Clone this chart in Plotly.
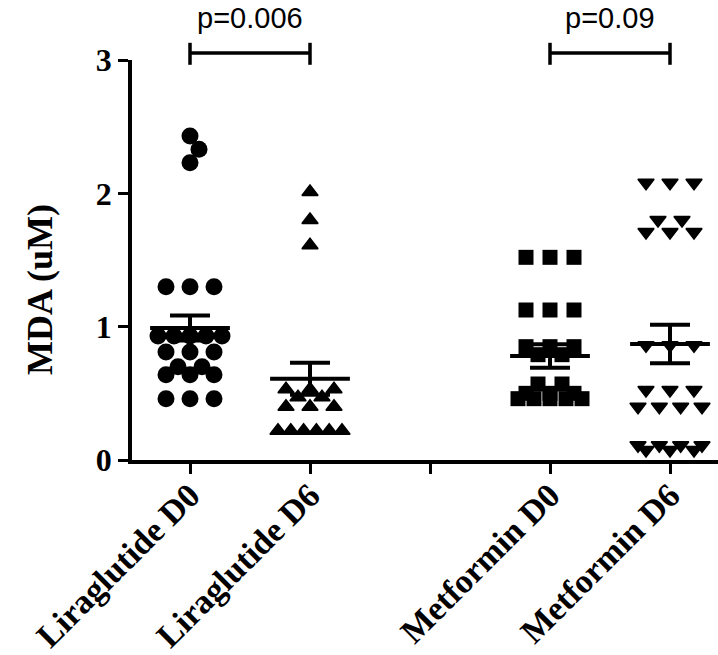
import plotly.graph_objects as go

# ---------------- data ----------------
categories = ["Liraglutide D0", "Liraglutide D6", "", "Metformin D0", "Metformin D6"]
lira_d0 = [2.43, 2.33, 2.23, 1.30, 1.30, 1.30, 0.93, 0.93, 0.93, 0.93, 0.93,
           0.81, 0.81, 0.81, 0.70, 0.70, 0.64, 0.64, 0.64, 0.46, 0.46, 0.46]
lira_d6 = [2.01, 1.80, 1.61, 0.53, 0.53, 0.53, 0.47, 0.47, 0.40, 0.40, 0.40,
           0.22, 0.22, 0.22, 0.22, 0.22, 0.22]
met_d0 = [1.52, 1.52, 1.52, 1.125, 1.125, 1.125, 0.85, 0.85, 0.85, 0.79, 0.79,
          0.57, 0.57, 0.50, 0.50, 0.50, 0.46, 0.46, 0.46, 0.46, 0.46]
met_d6 = [2.08, 2.08, 2.08, 1.80, 1.80, 1.71, 1.71, 1.71, 0.86, 0.86, 0.86,
          0.525, 0.525, 0.525, 0.40, 0.40, 0.40, 0.40, 0.11, 0.11, 0.11, 0.11,
          0.075, 0.075, 0.075]
group_means = [0.99, 0.61, 0.78, 0.87]
group_sems = [0.094, 0.12, 0.088, 0.145]
comparisons = [(0, 1, "p=0.006"), (3, 4, "p=0.09")]
y_ticks = [0, 1, 2, 3]
y_title = "MDA (uM)"

# ---------------- layout constants ----------------
W, H = 718, 655
ML, MR, MT, MB = 132, 0, 60, 195
PX_PER_X = 120.0
PX_PER_Y = (H - MT - MB) / 3.0
x_lo = -(190 - ML) / PX_PER_X
x_hi = x_lo + (W - ML - MR) / PX_PER_X

groups = [
    (0, lira_d0, "circle", 17),
    (1, lira_d6, "triangle-up", 14),
    (3, met_d0, "square", 15),
    (4, met_d6, "triangle-down", 14),
]


def row_offsets(values, step_px=24.0, max_w_px=64.0, min_dist=16.0):
    """Row-wise scatter layout (points with equal values side by side);
    single points are nudged sideways when they collide with earlier ones."""
    offs = [0.0] * len(values)
    rows = {}
    for i, v in enumerate(values):
        rows.setdefault(round(v, 4), []).append(i)
    placed = []  # (x_px, y_px)
    for key in sorted(rows):
        idx = rows[key]
        n = len(idx)
        ypx = key * PX_PER_Y
        if n == 1:
            best = 0.0
            for k in range(0, 60):
                found = False
                for cand in ((k, -k) if k else (0,)):
                    if all(((cand - px) ** 2 + (ypx - py) ** 2) ** 0.5 >= min_dist
                           for px, py in placed):
                        best = cand
                        found = True
                        break
                if found:
                    break
            offs[idx[0]] = best / PX_PER_X
            placed.append((best, ypx))
            continue
        s = min(step_px, max_w_px / (n - 1))
        for k, i in enumerate(idx):
            xpx = (k - (n - 1) / 2.0) * s
            offs[i] = xpx / PX_PER_X
            placed.append((xpx, ypx))
    return offs


fig = go.Figure()
for pos, vals, sym, size in groups:
    offs = row_offsets(vals)
    fig.add_trace(go.Scatter(
        x=[pos + o for o in offs], y=vals, mode="markers",
        marker=dict(symbol=sym, size=size, color="black",
                    line=dict(color="black", width=1.5 if "triangle" in sym else 0)),
        cliponaxis=False, showlegend=False, hoverinfo="y"))

# mean line + SEM
fig.add_trace(go.Scatter(
    x=[g[0] for g in groups], y=group_means, mode="markers",
    marker=dict(symbol="line-ew", size=57, color="black",
                line=dict(color="black", width=4)),
    error_y=dict(type="data", array=group_sems, visible=True,
                 color="black", thickness=4, width=20),
    cliponaxis=False, showlegend=False, hoverinfo="y"))

# significance brackets
BR_Y, CAP_LO, CAP_HI, TXT_Y = 1.0175, 0.988, 1.043, 1.06
for a, b, label in comparisons:
    fig.add_shape(type="line", xref="x", yref="paper", x0=a, x1=b, y0=BR_Y, y1=BR_Y,
                  line=dict(color="black", width=3.5))
    for xx in (a, b):
        fig.add_shape(type="line", xref="x", yref="paper", x0=xx, x1=xx,
                      y0=CAP_LO, y1=CAP_HI, line=dict(color="black", width=3.5))
    fig.add_annotation(x=(a + b) / 2, y=TXT_Y, xref="x", yref="paper",
                       text=label, showarrow=False, yanchor="bottom",
                       font=dict(family="Liberation Sans, Arial", size=29, color="black"))

serif_bold = dict(family="Liberation Serif, Times New Roman", size=32,
                  color="black", weight="bold")

# y-axis title (placed as rotated text, centred where the reference has it)
fig.add_annotation(x=(40 - ML) / (W - ML - MR), y=(460 - 290) / (H - MT - MB),
                   xref="paper", yref="paper", text=y_title, textangle=-90,
                   showarrow=False, xanchor="center", yanchor="middle",
                   font=dict(serif_bold, size=36))

fig.update_layout(
    width=W, height=H,
    margin=dict(l=ML, r=MR, t=MT, b=MB, autoexpand=False),
    plot_bgcolor="white", paper_bgcolor="white",
    xaxis=dict(range=[x_lo, x_hi], tickvals=list(range(len(categories))),
               ticktext=categories, tickangle=-45, showgrid=False, zeroline=False,
               showline=True, linecolor="black", linewidth=4,
               ticks="outside", ticklen=10, tickwidth=3, tickcolor="black",
               tickfont=dict(serif_bold, size=34), ticklabelstandoff=-12,
               automargin=False),
    yaxis=dict(range=[0, 3], tickvals=y_ticks, showgrid=False, zeroline=False,
               showline=True, linecolor="black", linewidth=3.5,
               ticks="outside", ticklen=10, tickwidth=3, tickcolor="black",
               tickfont=serif_bold, automargin=False),
)

fig.write_html("out.html")
